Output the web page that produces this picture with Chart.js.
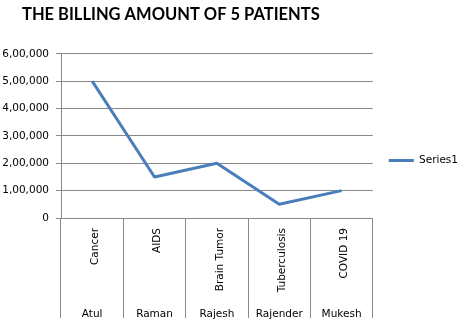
<!DOCTYPE html>
<html>
<head>
<meta charset="utf-8">
<script src="https://cdn.jsdelivr.net/npm/chart.js@4"></script>
<style>
  html, body { margin: 0; padding: 0; background: #fff; }
  #wrap { width: 468px; height: 335px; }
</style>
</head>
<body>
<div id="wrap"><canvas id="billChart"></canvas></div>
<script>
// Billing data per patient
const diseases = ['Cancer', 'AIDS', 'Brain Tumor', 'Tuberculosis', 'COVID 19'];
const patients = ['Atul', 'Raman', 'Rajesh', 'Rajender', 'Mukesh'];
const billAmounts = [500000, 150000, 200000, 50000, 100000];
const yTicks = [0, 100000, 200000, 300000, 400000, 500000, 600000];

const lineBlue = '#4a7ebb';
const gridGray = '#888888';
const labelFont = { family: 'DejaVu Sans', size: 10.5 };

// title sits indented from the left edge, past the start of the y labels
const titleIndent = {
  id: 'titleIndent',
  afterLayout(chart) {
    if (chart.titleBlock) chart.titleBlock.left = 22;
  }
};

function createBillChart() {
  const ctx = document.getElementById('billChart').getContext('2d');
  new Chart(ctx, {
    type: 'line',
    data: {
      labels: diseases,
      datasets: [{
        label: 'Series1',
        data: billAmounts,
        borderColor: lineBlue,
        backgroundColor: lineBlue,
        borderWidth: 3,
        borderJoinStyle: 'round',
        pointRadius: 0,
        pointStyle: 'line',
        tension: 0
      }]
    },
    options: {
      responsive: true,
      maintainAspectRatio: false,
      animation: false,
      layout: { padding: { left: 2, right: 0, top: 0, bottom: 14 } },
      plugins: {
        title: {
          display: true,
          text: 'THE BILLING AMOUNT OF 5 PATIENTS',
          align: 'start',
          color: '#000',
          font: { family: 'Lato', size: 16.5, weight: 'bold' },
          padding: { top: 5, bottom: 29 }
        },
        legend: {
          position: 'right',
          labels: {
            usePointStyle: true,
            pointStyle: 'line',
            pointStyleWidth: 25,
            padding: 16,
            color: '#000',
            font: labelFont
          }
        },
        tooltip: { enabled: false }
      },
      scales: {
        x: {
          type: 'category',
          offset: true,
          weight: 1,
          grid: { offset: true, drawOnChartArea: false, tickLength: 76, color: gridGray },
          border: { color: gridGray },
          ticks: {
            autoSkip: false,
            minRotation: 90,
            maxRotation: 90,
            padding: -66,
            labelOffset: 3,
            color: '#000',
            font: labelFont
          },
          afterFit: (scale) => { scale.height = 76; }
        },
        x2: {
          type: 'category',
          labels: patients,
          offset: true,
          position: 'bottom',
          weight: 2,
          grid: { offset: true, drawOnChartArea: false, tickLength: 24, color: gridGray },
          border: { display: false },
          ticks: { autoSkip: false, maxRotation: 0, padding: -10, color: '#000', font: labelFont },
          afterFit: (scale) => { scale.height = 27; }
        },
        y: {
          min: 0,
          max: 600000,
          afterBuildTicks: (scale) => { scale.ticks = yTicks.map(v => ({ value: v })); },
          grid: { color: gridGray, tickLength: 5 },
          border: { color: gridGray },
          ticks: {
            padding: 7,
            color: '#000',
            font: labelFont,
            callback: (v) => Number(v).toLocaleString('en-IN')
          },
          afterFit: (scale) => { scale.width = 59; }
        }
      }
    },
    plugins: [titleIndent]
  });
}

createBillChart();
</script>
</body>
</html>
